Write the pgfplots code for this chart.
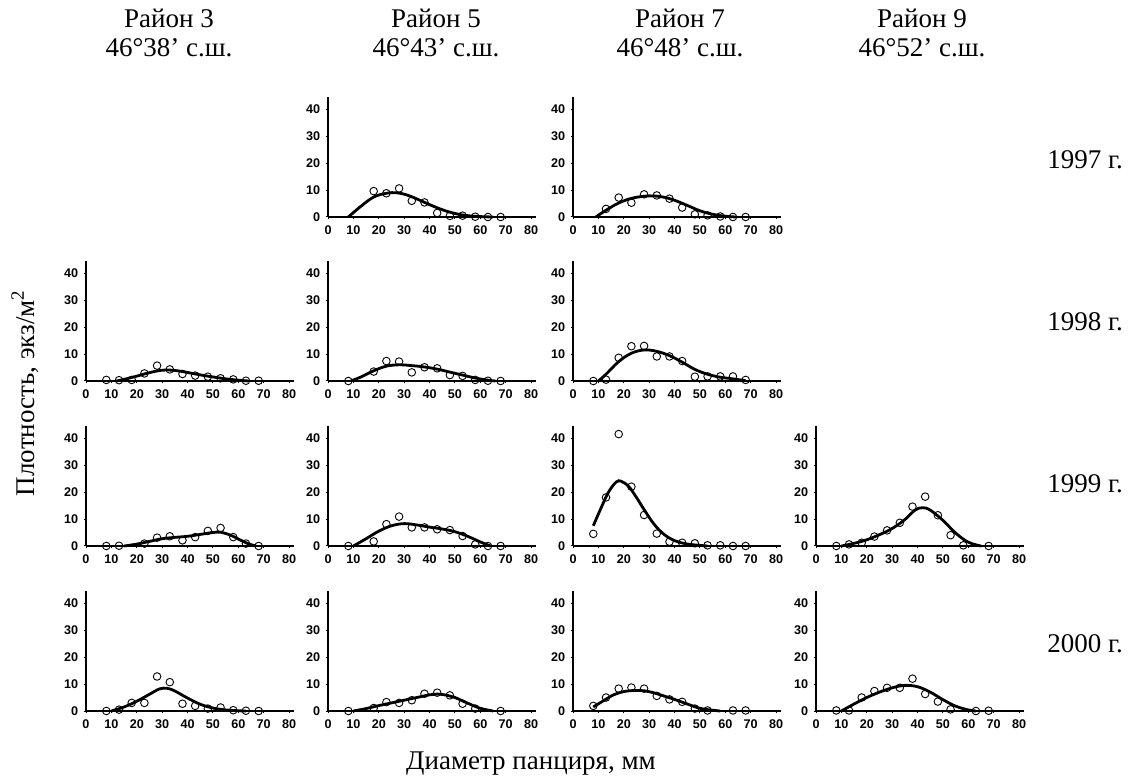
\documentclass[border=0pt]{standalone}
\usepackage{fontspec}
\setmainfont{Liberation Serif}
\newfontfamily\tickfont{Liberation Sans}
\usepackage{pgfplots}
\pgfplotsset{compat=1.18}
\pgfplotsset{panel/.style={
  scale only axis, width=104.1pt, height=60pt,
  xmin=0, xmax=82, ymin=0, ymax=44.5,
  axis lines=left, axis line style={-, line width=0.65pt},
  xtick={0,10,...,80}, ytick={0,10,20,30,40},
  tick align=outside, major tick length=1.2pt, tick style={line width=0.5pt, black},
  tick label style={font=\tickfont\bfseries\fontsize{6.3}{7}\selectfont, inner sep=0pt},
  xticklabel style={anchor=north, yshift=-3pt},
  yticklabel style={anchor=east, xshift=-2.5pt},
  /pgf/number format/assume math mode=true,
  clip=false, anchor=south west,
}}
\newcommand\fitline[1]{\addplot[black, line width=1.4pt, smooth, tension=0.6, no marks] coordinates {#1};}
\newcommand\obs[1]{\addplot[only marks, mark=o, mark size=1.9pt, mark options={line width=0.45pt, black}] coordinates {#1};}
\begin{document}
\begin{tikzpicture}
\path[use as bounding box, fill=white] (0,0) rectangle (567.5pt,391pt);
% titles
\foreach \x/\r/\l in {84.5/3/46°38’, 218/5/46°43’, 340/7/46°48’, 461/9/46°52’}{
  \node[font=\fontsize{13.5}{15}\selectfont] at (\x pt,382pt) {Район \r};
  \node[font=\fontsize{13.5}{15}\selectfont] at (\x pt,367pt) {\l\ с.ш.};
}
\foreach \y/\t in {311/1997, 230/1998, 149/1999, 69/2000}{
  \node[font=\fontsize{13.5}{15}\selectfont, anchor=east] at (565pt,\y pt) {\t\ г.};
}
\node[font=\fontsize{13.5}{15}\selectfont, rotate=90] at (12.5pt,194.5pt) {Плотность, экз/м\textsuperscript{2}};
\node[font=\fontsize{13.5}{15}\selectfont] at (265.5pt,9pt) {Диаметр панциря, мм};

% ---- 1997, Район 5
\begin{axis}[panel, at={(164pt,282.5pt)}]
\obs{(18,9.6)(23,8.8)(28,10.6)(33,6.0)(38,5.4)(43,1.5)(48,0.4)(53,0.5)(58,0.1)(63,0)(68,0)}
\fitline{(8,0)(13,4)(18,7.4)(23,8.8)(27,9)(31,8.2)(35,6.7)(40,4.6)(45,2.7)(50,1.3)(55,0.5)(60,0.15)(65,0)}
\end{axis}
% ---- 1997, Район 7
\begin{axis}[panel, at={(286.5pt,282.5pt)}]
\obs{(13,3)(18,7.2)(23,5.3)(28,8.4)(33,8.0)(38,6.8)(43,3.5)(48,1.0)(53,0.6)(58,0.2)(63,0)(68,0)}
\fitline{(9,0)(13,2.5)(18,5.2)(23,6.9)(28,7.7)(32,7.8)(36,7.3)(40,6.2)(45,4.3)(50,2.3)(55,1.0)(60,0.3)(64,0)}
\end{axis}
% ---- 1998, Район 3
\begin{axis}[panel, at={(43pt,200.5pt)}]
\obs{(8,0.4)(13,0.3)(18,0.4)(23,2.8)(28,5.7)(33,4.3)(38,2.6)(43,2)(48,1.6)(53,1)(58,0.6)(63,0.1)(68,0.1)}
\fitline{(12,0)(15,0.6)(20,1.8)(25,3.1)(30,4.0)(34,4.0)(38,3.5)(42,2.8)(46,2.1)(50,1.5)(55,0.8)(60,0.3)(64,0)}
\end{axis}
% ---- 1998, Район 5
\begin{axis}[panel, at={(164pt,200.5pt)}]
\obs{(8,0)(18,3.5)(23,7.4)(28,7.2)(33,3.2)(38,5.1)(43,4.7)(48,2.2)(53,1.9)(58,0.4)(63,0.1)(68,0)}
\fitline{(9,0)(13,1.5)(18,3.8)(23,5.5)(28,6)(33,5.7)(38,5.2)(43,4.4)(48,3.3)(53,2.2)(58,1.1)(63,0.3)(66,0)}
\end{axis}
% ---- 1998, Район 7
\begin{axis}[panel, at={(286.5pt,200.5pt)}]
\obs{(8,0)(13,0.5)(18,8.6)(23,12.9)(28,13)(33,9.1)(38,9.1)(43,7.4)(48,1.6)(53,1.7)(58,1.7)(63,1.7)(68,0.4)}
\fitline{(10,0)(13,2.5)(18,7.2)(23,10.3)(28,11.5)(33,11.0)(38,9.4)(43,7.0)(48,4.3)(53,2.5)(58,1.4)(63,0.8)(68,0.1)}
\end{axis}
% ---- 1999, Район 3
\begin{axis}[panel, at={(43pt,118pt)}]
\obs{(8,0)(13,0.1)(23,0.9)(28,3.1)(33,3.6)(38,2.1)(43,3.3)(48,5.6)(53,6.7)(58,3.3)(63,0.9)(68,0)}
\fitline{(15,0)(20,0.7)(25,1.7)(30,2.7)(35,3.2)(40,3.6)(45,4.3)(50,5.0)(53,5.1)(57,4.0)(60,2.6)(64,0.8)(67,0)}
\end{axis}
% ---- 1999, Район 5
\begin{axis}[panel, at={(164pt,118pt)}]
\obs{(8,0)(18,1.7)(23,8.1)(28,10.9)(33,6.9)(38,6.9)(43,6.2)(48,5.9)(53,3.7)(58,0.6)(63,0)(68,0)}
\fitline{(10,0)(15,2.7)(20,5.5)(25,7.5)(30,8.3)(35,7.8)(40,7.0)(45,6.3)(50,5.3)(55,3.6)(60,1.5)(64,0)}
\end{axis}
% ---- 1999, Район 7
\begin{axis}[panel, at={(286.5pt,118pt)}]
\obs{(8,4.5)(13,18)(18,41.5)(23,22)(28,11.5)(33,4.6)(38,1.6)(43,1.2)(48,1)(53,0.25)(58,0.25)(63,0)(68,0)}
\fitline{(8,7.5)(11,14)(14,20)(17,23.7)(19,24)(22,22)(25,18)(28,13.5)(32,8)(36,4.2)(40,2)(44,0.9)(48,0.4)(53,0)}
\end{axis}
% ---- 1999, Район 9
\begin{axis}[panel, at={(408pt,118pt)}]
\obs{(8,0)(13,0.6)(18,1.2)(23,3.5)(28,5.8)(33,8.6)(38,14.6)(43,18.3)(48,11.4)(53,4)(58,0.25)(68,0)}
\fitline{(10,0)(15,1)(20,2.3)(25,4.2)(30,6.5)(35,9.8)(39,13.3)(42,14.2)(45,13.3)(50,9.5)(55,4.8)(60,1.4)(65,0)}
\end{axis}
% ---- 2000, Район 3
\begin{axis}[panel, at={(43pt,35.5pt)}]
\obs{(8,0)(13,0.5)(18,3)(23,3)(28,12.8)(33,10.7)(38,2.7)(43,1.9)(48,0.9)(53,1.3)(58,0.3)(63,0.1)(68,0)}
\fitline{(10,0)(15,1.5)(20,3.6)(25,6.2)(29,8.2)(32,8.4)(35,7.4)(40,4.8)(45,2.5)(50,1.1)(55,0.4)(60,0.1)(63,0)}
\end{axis}
% ---- 2000, Район 5
\begin{axis}[panel, at={(164pt,35.5pt)}]
\obs{(8,0)(18,1.1)(23,3.3)(28,3)(33,4)(38,6.4)(43,6.8)(48,5.8)(53,2.7)(58,0.9)(68,0)}
\fitline{(10,0)(15,0.9)(20,2)(25,3)(30,4)(35,5)(40,6)(43,6.3)(47,5.8)(50,5)(55,2.9)(60,1)(65,0)}
\end{axis}
% ---- 2000, Район 7
\begin{axis}[panel, at={(286.5pt,35.5pt)}]
\obs{(8,1.9)(13,5)(18,8.3)(23,8.7)(28,8.3)(33,5.6)(38,4.3)(43,3.4)(48,0.9)(53,0.2)(63,0.2)(68,0.2)}
\fitline{(8,1.5)(12,3.8)(16,6)(20,7.2)(24,7.6)(28,7.5)(32,6.7)(36,5.5)(40,4.3)(45,2.6)(50,1.0)(55,0.3)(58,0)}
\end{axis}
% ---- 2000, Район 9
\begin{axis}[panel, at={(408pt,35.5pt)}]
\obs{(8,0.2)(13,0.2)(18,5)(23,7.4)(28,8.6)(33,8.6)(38,12)(43,6.3)(48,3.5)(53,0.6)(63,0)(68,0.1)}
\fitline{(10,0)(15,2.6)(20,5)(25,7)(30,8.6)(35,9.5)(40,9)(45,7)(50,4.2)(55,1.8)(60,0.4)(63,0)}
\end{axis}
\end{tikzpicture}
\end{document}
